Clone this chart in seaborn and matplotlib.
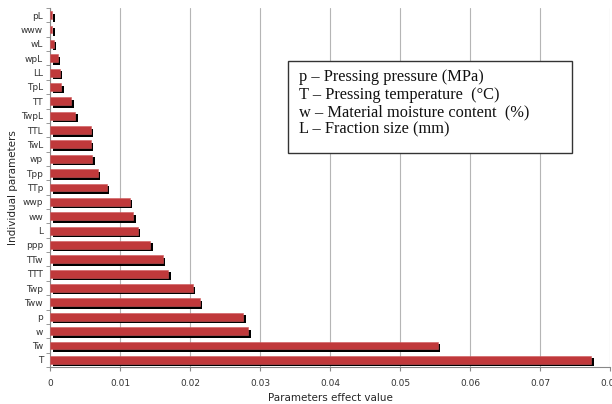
import matplotlib
matplotlib.use("Agg")
import matplotlib.pyplot as plt
import matplotlib.patheffects as pe
from matplotlib.patches import Rectangle
import seaborn as sns
import numpy as np
import pandas as pd

params = ['pL', 'www', 'wL', 'wpL', 'LL', 'TpL', 'TT', 'TwpL', 'TTL', 'TwL',
          'wp', 'Tpp', 'TTp', 'wwp', 'ww', 'L', 'ppp', 'TTw', 'TTT', 'Twp',
          'Tww', 'p', 'w', 'Tw', 'T']
effects = [0.0003, 0.0003, 0.0005, 0.0011, 0.0014, 0.0016, 0.0030, 0.0036, 0.0058, 0.0058,
           0.0060, 0.0068, 0.0081, 0.0114, 0.0119, 0.0125, 0.0143, 0.0161, 0.0169, 0.0204,
           0.0214, 0.0276, 0.0283, 0.0554, 0.0773]
legend_lines = ['p – Pressing pressure (MPa)',
                'T – Pressing temperature  (°C)',
                'w – Material moisture content  (%)',
                'L – Fraction size (mm)']

df = pd.DataFrame({'param': params, 'effect': effects})

sns.set_style('white')
plt.rcParams['font.family'] = ['DejaVu Sans']

fig = plt.figure(figsize=(6.12, 4.04), dpi=100)
ax = fig.add_axes([50 / 612, 1 - 367 / 404, 560 / 612, 359 / 404])

sns.barplot(data=df, x='effect', y='param', order=params, color='#c0393b',
            saturation=1, width=0.55, ax=ax, zorder=3)
for bar in ax.patches:
    bar.set_path_effects([pe.SimplePatchShadow(offset=(1.8, -1.8), shadow_rgbFace='black', alpha=1),
                          pe.Normal()])
    bar.set_edgecolor('#d05a5c')
    bar.set_linewidth(0.4)

ax.set_xlim(0, 0.08)
ax.set_ylim(len(params) - 0.5, -0.5)
ax.set_xticks(np.arange(0, 0.081, 0.01))
ax.set_xticklabels(['0'] + [f'{v:.2f}' for v in np.arange(0.01, 0.081, 0.01)])
ax.set_yticks(np.arange(len(params) + 1) - 0.5, minor=True)
ax.tick_params(axis='y', which='major', length=0, labelsize=6.5, pad=5, labelcolor='#333333')
ax.tick_params(axis='y', which='minor', length=3, color='#888888', left=True)
ax.tick_params(axis='x', which='major', length=3, color='#888888', bottom=True, labelsize=6.5,
               pad=6, labelcolor='#333333')
ax.grid(axis='x', color='#b5b5b5', linewidth=0.8, zorder=0)
ax.grid(axis='y', visible=False)
for s in ['top', 'right']:
    ax.spines[s].set_visible(False)
for s in ['left', 'bottom']:
    ax.spines[s].set_color('#888888')
    ax.spines[s].set_linewidth(0.8)

ax.set_xlabel('Parameters effect value', fontsize=7.5, labelpad=3)
ax.set_ylabel('Individual parameters', fontsize=7.5, labelpad=2)

# legend box with parameter descriptions
ax.add_patch(Rectangle((0.425, 0.596), 0.507, 0.256, transform=ax.transAxes,
                       facecolor='white', edgecolor='#333333', linewidth=1, zorder=5))
ax.text(0.4446, 0.830, '\n'.join(legend_lines), transform=ax.transAxes,
        family='Liberation Serif', fontsize=11.8, va='top', ha='left', linespacing=1.13,
        color='#111111', zorder=6)

fig.savefig('out.png', dpi=100)
